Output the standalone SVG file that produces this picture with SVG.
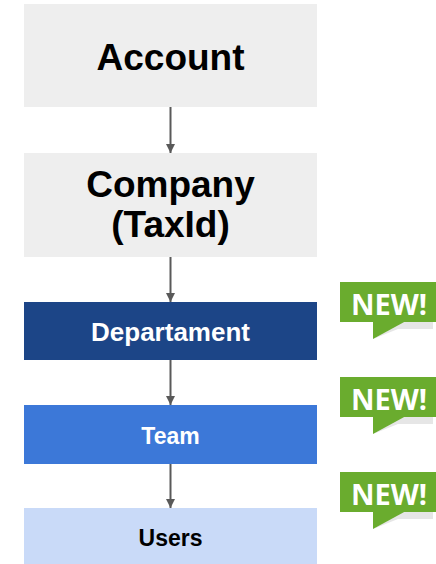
<svg xmlns="http://www.w3.org/2000/svg" width="436" height="564" viewBox="0 0 436 564">
<defs>
<style>
.lbl{font-family:"Liberation Sans",Arial,sans-serif;font-weight:bold;text-anchor:middle}
.big{font-size:37px;fill:#000}
.mid{font-size:23px}
.conn{stroke:#595959;stroke-width:2;fill:none}
.badge-text{font-family:"Open Sans","Liberation Sans",sans-serif;font-weight:bold;font-size:29px;fill:#fff}
.bg{fill:#6aac2e}
.sh{fill:#e6e6e6}
</style>
<marker id="ah" viewBox="0 0 10 10" refX="10" refY="5" markerWidth="4.5" markerHeight="5" orient="auto" markerUnits="strokeWidth">
<path d="M0,0 L10,5 L0,10 z" fill="#595959"/>
</marker>
</defs>
<g id="account">
<rect x="24" y="4" width="293" height="103" fill="#eeeeee"/>
<text class="lbl big" x="170.5" y="70">Account</text>
</g>
<g id="company">
<rect x="24" y="153" width="293" height="104" fill="#eeeeee"/>
<text class="lbl big" x="170.5" y="197">Company</text>
<text class="lbl big" x="170.5" y="237">(TaxId)</text>
</g>
<g id="departament">
<rect x="24" y="302" width="293" height="58" fill="#1c4587"/>
<text class="lbl" x="170.5" y="340.5" font-size="26" fill="#fff">Departament</text>
</g>
<g id="team">
<rect x="24" y="405" width="293" height="59" fill="#3c78d8"/>
<text class="lbl mid" x="170.5" y="443.5" fill="#fff">Team</text>
</g>
<g id="users">
<rect x="24" y="508" width="293" height="56" fill="#c9daf8"/>
<text class="lbl mid" x="170.5" y="546" fill="#000">Users</text>
</g>
<g id="connectors">
<line class="conn" x1="170.5" y1="107" x2="170.5" y2="153" marker-end="url(#ah)"/>
<line class="conn" x1="170.5" y1="257" x2="170.5" y2="302" marker-end="url(#ah)"/>
<line class="conn" x1="170.5" y1="360" x2="170.5" y2="405" marker-end="url(#ah)"/>
<line class="conn" x1="170.5" y1="464" x2="170.5" y2="508" marker-end="url(#ah)"/>
</g>
<g id="badge1" transform="translate(340,282)">
<polygon class="sh" points="33,57 64,39 93,39 93,47 58,47"/>
<rect class="bg" x="0" y="0" width="96" height="40"/>
<polygon class="bg" points="33,39 33,57 66,39"/>
<text class="badge-text" x="11" y="33">NEW!</text>
</g>
<g id="badge2" transform="translate(340,377)">
<polygon class="sh" points="33,57 64,39 93,39 93,47 58,47"/>
<rect class="bg" x="0" y="0" width="96" height="40"/>
<polygon class="bg" points="33,39 33,57 66,39"/>
<text class="badge-text" x="11" y="33">NEW!</text>
</g>
<g id="badge3" transform="translate(340,472)">
<polygon class="sh" points="33,57 64,39 93,39 93,47 58,47"/>
<rect class="bg" x="0" y="0" width="96" height="40"/>
<polygon class="bg" points="33,39 33,57 66,39"/>
<text class="badge-text" x="11" y="33">NEW!</text>
</g>
</svg>
